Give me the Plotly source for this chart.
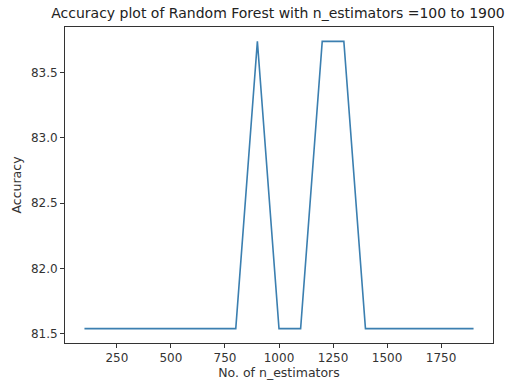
import plotly.graph_objects as go

n_estimators = list(range(100, 2000, 100))
accuracy = [81.54, 81.54, 81.54, 81.54, 81.54, 81.54, 81.54, 81.54,
            83.74, 81.54, 81.54, 83.74, 83.74, 81.54,
            81.54, 81.54, 81.54, 81.54, 81.54]
x_ticks = [250, 500, 750, 1000, 1250, 1500, 1750]
y_ticks = [81.5, 82.0, 82.5, 83.0, 83.5]

fig = go.Figure()
fig.add_trace(go.Scatter(x=n_estimators, y=accuracy, mode="lines",
                         line=dict(color="#3b7fb0", width=1.6)))

axis_common = dict(showline=True, linecolor="#333", linewidth=1, mirror=True,
                   ticks="outside", ticklen=4, tickcolor="#333", showgrid=False,
                   zeroline=False, automargin=False,
                   tickfont=dict(size=12, color="#333"))

fig.update_layout(
    width=510, height=385,
    margin=dict(l=65, r=17, t=27, b=42),
    paper_bgcolor="white", plot_bgcolor="white",
    font=dict(family="DejaVu Sans", color="#333"),
    showlegend=False,
    title=dict(text="Accuracy plot of Random Forest with n_estimators =100 to 1900",
               x=278 / 510, xanchor="center", y=1 - 13 / 385, yanchor="middle",
               font=dict(size=14, color="#222")),
    xaxis=dict(range=[10, 1990], tickvals=x_ticks,
               title=dict(text="No. of n_estimators", font=dict(size=12.5), standoff=3),
               **axis_common),
    yaxis=dict(range=[81.43, 83.85], tickvals=y_ticks, tickformat=".1f",
               title=dict(text="Accuracy", font=dict(size=12.5), standoff=6),
               **axis_common),
)

fig.write_html("out.html", config={"displayModeBar": False},
               post_script="document.body.style.margin='0';")
